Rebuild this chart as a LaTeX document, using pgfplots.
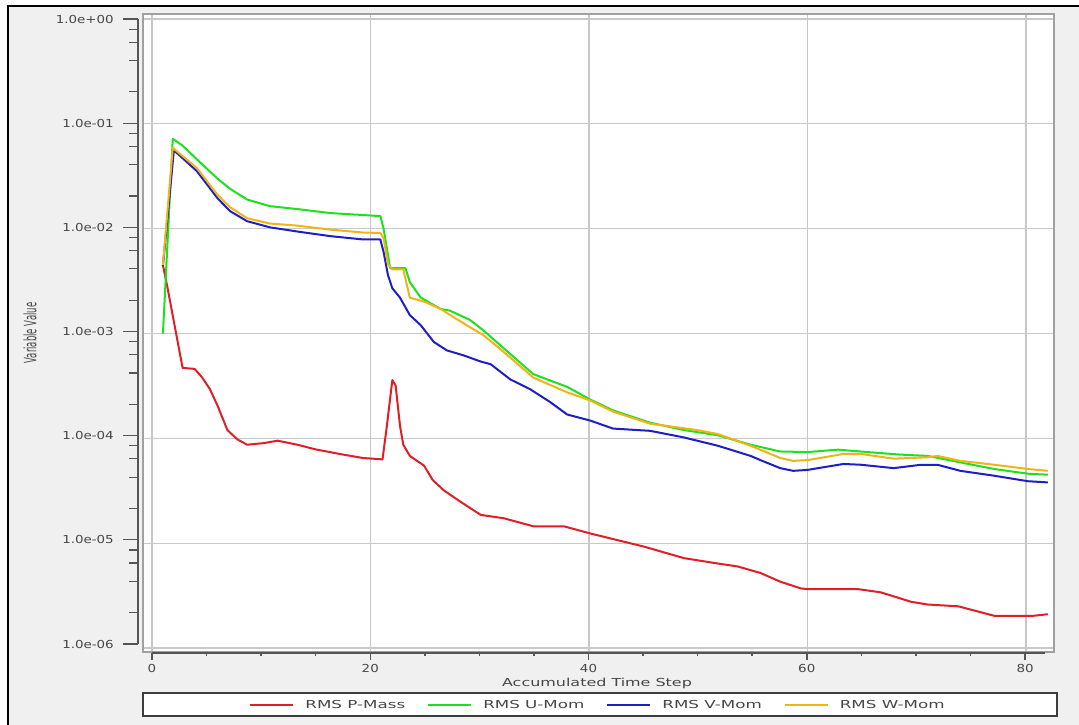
\documentclass[border=0pt]{standalone}
\usepackage{fontspec}
\setmainfont{DejaVu Sans}[FakeStretch=1.45]
\newfontfamily\plainfont{DejaVu Sans}
\newfontfamily\tickfont{DejaVu Sans}[FakeStretch=1.22]
\newfontfamily\legfont{DejaVu Sans}[FakeStretch=1.52]
\usepackage{pgfplots}
\pgfplotsset{compat=1.18}
\definecolor{bg}{RGB}{240,240,240}
\definecolor{gridc}{RGB}{200,200,200}
\definecolor{framec}{RGB}{160,160,160}
\definecolor{axisc}{RGB}{85,85,85}
\definecolor{labc}{RGB}{70,70,70}
\definecolor{legframe}{RGB}{60,60,60}
\definecolor{cred}{RGB}{225,30,40}
\definecolor{cgreen}{RGB}{30,225,30}
\definecolor{cblue}{RGB}{30,30,200}
\definecolor{corange}{RGB}{240,180,20}
\newcommand{\lblfont}{\fontsize{11}{13}\selectfont}

\pgfplotstableread{
x y
1 4.5e-3
1.4 2.8e-3
2.8 4.7e-4
3.9 4.6e-4
4.6 3.8e-4
5.3 2.95e-4
6.0 2.05e-4
6.9 1.2e-4
7.8 9.8e-5
8.7 8.7e-5
10.2 9.0e-5
11.5 9.5e-5
13.3 8.7e-5
15.1 7.8e-5
17.5 7.0e-5
19.3 6.5e-5
21.1 6.3e-5
21.5 1.32e-4
22.0 3.6e-4
22.3 3.2e-4
22.7 1.32e-4
23.0 8.7e-5
23.6 6.8e-5
24.9 5.5e-5
25.7 4.0e-5
26.7 3.2e-5
27.3 2.9e-5
28.2 2.5e-5
30.1 1.86e-5
32.2 1.73e-5
34.9 1.45e-5
37.7 1.45e-5
40.1 1.24e-5
42.6 1.07e-5
45.0 9.3e-6
48.7 7.2e-6
51.8 6.4e-6
53.6 6.0e-6
55.7 5.2e-6
57.5 4.3e-6
59.4 3.7e-6
60.0 3.65e-6
64.6 3.65e-6
66.7 3.4e-6
69.5 2.76e-6
71.0 2.6e-6
73.8 2.5e-6
77.1 2.03e-6
80.7 2.03e-6
82.0 2.1e-6
}\pmass

\pgfplotstableread{
x y
1 1.0e-3
1.9 7.2e-2
2.8 6.2e-2
4.1 4.6e-2
6.0 3.0e-2
7.15 2.4e-2
8.7 1.9e-2
10.8 1.64e-2
13.3 1.54e-2
16.3 1.41e-2
19.3 1.35e-2
20.9 1.32e-2
21.2 1.0e-2
21.8 4.2e-3
23.2 4.2e-3
23.6 3.1e-3
24.6 2.2e-3
26.4 1.72e-3
27.3 1.65e-3
29.1 1.35e-3
30.3 1.08e-3
31.9 7.7e-4
34.9 4.1e-4
38.0 3.1e-4
40.1 2.35e-4
42.2 1.85e-4
45.6 1.41e-4
48.7 1.2e-4
51.8 1.07e-4
54.8 8.7e-5
57.5 7.5e-5
60.0 7.4e-5
62.8 7.8e-5
65.5 7.4e-5
68.5 7.0e-5
71.0 6.8e-5
74.0 5.9e-5
77.1 5.1e-5
80.2 4.6e-5
82.0 4.5e-5
}\umom

\pgfplotstableread{
x y
1 4.4e-3
2.0 5.6e-2
4.1 3.55e-2
6.0 1.95e-2
7.15 1.47e-2
8.7 1.18e-2
10.8 1.03e-2
13.3 9.4e-3
16.3 8.5e-3
19.3 7.9e-3
20.9 7.9e-3
21.2 6.0e-3
21.6 3.6e-3
22.0 2.7e-3
22.7 2.2e-3
23.6 1.5e-3
24.6 1.2e-3
25.8 8.3e-4
27.0 6.9e-4
28.5 6.2e-4
30.1 5.4e-4
31.0 5.1e-4
32.8 3.65e-4
34.6 2.95e-4
36.5 2.2e-4
38.0 1.69e-4
40.1 1.48e-4
42.2 1.24e-4
45.6 1.18e-4
48.7 1.02e-4
51.8 8.5e-5
54.8 6.8e-5
55.7 6.2e-5
57.5 5.2e-5
58.7 4.9e-5
60.0 5.0e-5
63.3 5.7e-5
64.9 5.6e-5
67.9 5.2e-5
70.4 5.6e-5
71.9 5.6e-5
74.0 4.9e-5
77.1 4.4e-5
80.2 3.9e-5
82.0 3.8e-5
}\vmom

\pgfplotstableread{
x y
1 4.5e-3
1.9 5.9e-2
4.1 3.8e-2
6.0 2.1e-2
7.15 1.6e-2
8.7 1.26e-2
10.8 1.12e-2
13.3 1.07e-2
16.3 9.8e-3
19.3 9.2e-3
20.9 9.1e-3
21.2 8.1e-3
21.6 4.6e-3
22.0 4.1e-3
23.0 4.1e-3
23.6 2.2e-3
25.0 2.0e-3
26.4 1.72e-3
27.3 1.5e-3
29.1 1.15e-3
30.3 9.7e-4
31.9 7.1e-4
34.9 3.8e-4
38.0 2.75e-4
40.1 2.3e-4
42.2 1.8e-4
45.6 1.38e-4
49.9 1.2e-4
51.8 1.1e-4
54.8 8.5e-5
57.5 6.5e-5
58.7 6.1e-5
60.0 6.2e-5
63.3 7.1e-5
64.9 7.1e-5
67.9 6.4e-5
71.0 6.6e-5
71.9 6.8e-5
74.0 6.1e-5
77.1 5.6e-5
80.2 5.1e-5
82.0 4.9e-5
}\wmom

\begin{document}
\begin{tikzpicture}
\path[use as bounding box] (0pt,0pt) rectangle (1079pt,-725pt);
\fill[white] (0pt,0pt) rectangle (1079pt,-725pt);
\fill[bg] (8pt,-6pt) rectangle (1079pt,-725pt);
\draw[black, line width=2.5pt] (8pt,-725pt) -- (8pt,-6pt) -- (1079pt,-6pt);
\draw[legframe, line width=1.5pt, fill=white] (143pt,-693pt) rectangle (1057pt,-716pt);

\begin{axis}[
  at={(143pt,-652pt)}, anchor=south west,
  scale only axis, width=911pt, height=638pt,
  xmin=-0.825, xmax=82.57,
  ymode=log, ymin=9.16e-7, ymax=1.117,
  xtick={0,20,40,60,80},
  ytick={1e-6,1e-5,1e-4,1e-3,1e-2,1e-1,1},
  xticklabels={}, yticklabels={},
  major tick length=0pt, minor tick length=0pt,
  tick style={draw=none},
  grid=major, major grid style={gridc, line width=1.2pt},
  axis line style={framec, line width=1.5pt},
  axis background/.style={fill=white},
  legend columns=4,
  legend style={draw=none, fill=none, at={(axis description cs:0.4984,-0.0831)}, anchor=center,
    font=\legfont\lblfont, text=labc, inner sep=0pt, column sep=11pt,
    /tikz/every even column/.append style={column sep=22pt},
    nodes={inner sep=0pt}},
  legend image code/.code={\draw[#1, line width=2pt] (0pt,0pt) -- (43pt,0pt);},
  every axis plot/.append style={line width=2pt, line join=round},
]
\addplot[cred] table[x=x,y=y] {\pmass};
\addlegendentry{RMS P-Mass}
\addplot[cgreen] table[x=x,y=y] {\umom};
\addlegendentry{RMS U-Mom}
\addplot[cblue] table[x=x,y=y] {\vmom};
\addlegendentry{RMS V-Mom}
\addplot[corange] table[x=x,y=y] {\wmom};
\addlegendentry{RMS W-Mom}
\end{axis}

% y axis
\begin{axis}[
  at={(138pt,-644pt)}, anchor=south west,
  scale only axis, width=2pt, height=625pt,
  xmin=0, xmax=1, ymode=log, ymin=1e-6, ymax=1,
  axis y line=left, axis x line=none,
  axis line style={-, axisc, line width=2.5pt},
  ytick={1e-6,1e-5,1e-4,1e-3,1e-2,1e-1,1},
  yticklabels={1.0e-06,1.0e-05,1.0e-04,1.0e-03,1.0e-02,1.0e-01,1.0e+00},
  minor ytick={2e-6,4e-6,6e-6,8e-6,2e-5,4e-5,6e-5,8e-5,2e-4,4e-4,6e-4,8e-4,2e-3,4e-3,6e-3,8e-3,2e-2,4e-2,6e-2,8e-2,0.2,0.4,0.6,0.8},
  tick align=outside, major tick length=15pt, minor tick length=9pt,
  tick style={axisc, line width=1.2pt},
  yticklabel style={font=\tickfont\lblfont, text=labc, inner sep=0pt, xshift=-9pt},
]
\end{axis}

% x axis
\begin{axis}[
  at={(152pt,-653pt)}, anchor=south west,
  scale only axis, width=893pt, height=2pt,
  xmin=0, xmax=81.83, ymin=0, ymax=1,
  axis x line=bottom, axis y line=none,
  axis line style={-, axisc, line width=2pt},
  xtick={0,20,40,60,80}, xticklabels={0,20,40,60,80},
  minor x tick num=3,
  tick align=outside, major tick length=7pt, minor tick length=3pt,
  tick style={axisc, line width=1.5pt},
  xticklabel style={font=\tickfont\lblfont, text=labc, inner sep=0pt, yshift=-4pt},
]
\end{axis}

\node[text=labc, font=\lblfont] at (597pt,-683pt) {Accumulated Time Step};
\node[text=labc, rotate=90] at (30pt,-333pt) {\scalebox{1}[2]{\fontsize{8.5}{10}\plainfont Variable Value}};
\end{tikzpicture}
\end{document}
